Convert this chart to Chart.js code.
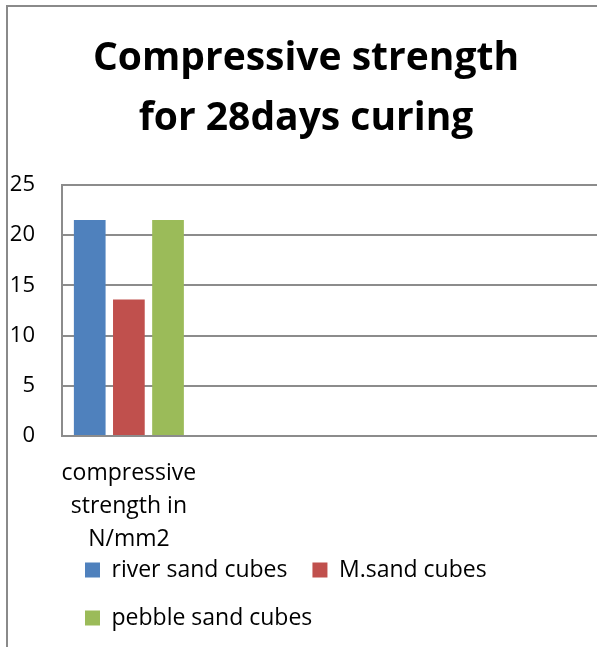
<!DOCTYPE html>
<html>
<head>
<meta charset="utf-8">
<script src="https://cdn.jsdelivr.net/npm/chart.js@4"></script>
<style>
  html, body { margin: 0; padding: 0; background: #fff; }
  #wrap { position: relative; width: 597px; height: 648px; overflow: hidden; }
  #frame { position: absolute; left: 6px; top: 5px; width: 700px; height: 640px;
           border-left: 2px solid #8a8a8a; border-top: 2px solid #8a8a8a; pointer-events: none; }
  canvas { position: absolute; left: 0; top: 0; }
</style>
</head>
<body>
<div id="wrap">
  <canvas id="c" width="597" height="648"></canvas>
  <div id="frame"></div>
</div>
<script>
const titleLines = ['Compressive strength', 'for 28days curing'];
const categories = [['compressive', 'strength in', 'N/mm2'], '', '', ''];
const seriesNames = ['river sand cubes', 'M.sand cubes', 'pebble sand cubes'];
const riverSand = [21.5, null, null, null];
const mSand = [13.6, null, null, null];
const pebbleSand = [21.5, null, null, null];
const yTicks = [0, 5, 10, 15, 20, 25];
const colors = ['#4F81BD', '#C0504D', '#9BBB59'];

const FONT = '"Open Sans", "Noto Sans", sans-serif';
const gridColor = '#8c8c8c';

// shifts the bottom legend up into the spare room under the category label
const legendShift = {
  id: 'legendShift',
  afterLayout(chart) {
    const l = chart.legend;
    if (!l) return;
    l.top -= 20; l.bottom -= 20;
    l.left -= 2; l.right -= 2;
  }
};

new Chart(document.getElementById('c'), {
  type: 'bar',
  data: {
    labels: categories,
    datasets: [riverSand, mSand, pebbleSand].map((d, i) => ({
      label: seriesNames[i],
      data: d,
      backgroundColor: colors[i],
      borderWidth: 0,
      categoryPercentage: 0.878,
      barPercentage: 0.81
    }))
  },
  plugins: [legendShift],
  options: {
    responsive: false,
    animation: false,
    layout: { padding: { left: 10, right: -5, top: 0, bottom: -11.5 } },
    plugins: {
      title: {
        display: true,
        text: titleLines,
        color: '#000',
        font: { family: FONT, size: 39, weight: 'bold', lineHeight: 1.56 },
        padding: { top: 28, bottom: 35.3 }
      },
      legend: {
        position: 'bottom',
        align: 'start',
        fullSize: false,
        labels: {
          color: '#000',
          font: { family: FONT, size: 23 },
          boxWidth: 15,
          boxHeight: 15,
          padding: 25
        }
      },
      tooltip: { enabled: false }
    },
    scales: {
      x: {
        grid: { display: false, drawTicks: false },
        border: { display: true, color: gridColor, width: 2 },
        ticks: {
          color: '#000',
          font: { family: FONT, size: 23, lineHeight: 1.43 },
          padding: 21,
          maxRotation: 0,
          autoSkip: false
        },
        afterFit: (axis) => {
          axis.paddingLeft = 0; axis.paddingRight = 0;
          axis.height = 117.5;
        }
      },
      y: {
        min: 0,
        max: 25,
        afterBuildTicks: (axis) => { axis.ticks = yTicks.map(v => ({ value: v })); },
        grid: { color: gridColor, lineWidth: 2, drawTicks: false },
        border: { display: true, color: gridColor, width: 2 },
        ticks: {
          color: '#000',
          font: { family: FONT, size: 22 },
          padding: 27
        },
        afterFit: (axis) => { axis.width = 52; }
      }
    }
  }
});
</script>
</body>
</html>
